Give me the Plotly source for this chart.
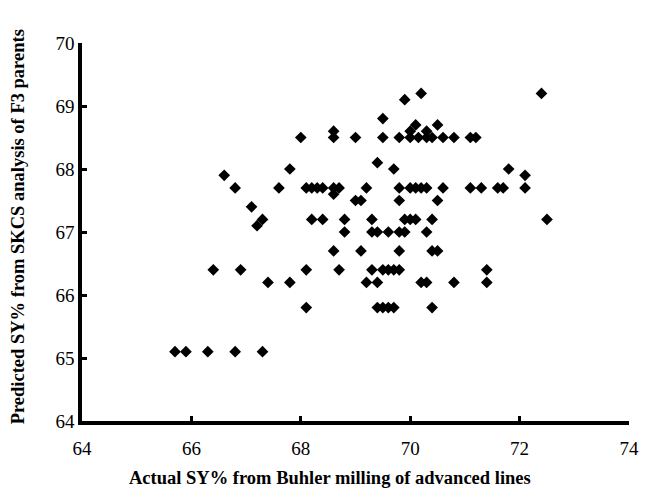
import plotly.graph_objects as go

# Data: rows grouped by predicted SY% (y) with actual SY% (x) values
rows = {
    65.1: [65.7, 65.9, 66.3, 66.8, 67.3],
    65.8: [68.1, 69.4, 69.5, 69.6, 69.7, 70.4],
    66.2: [67.4, 67.8, 69.2, 69.4, 70.2, 70.3, 70.8, 71.4],
    66.4: [66.4, 66.9, 68.1, 68.7, 69.3, 69.5, 69.6, 69.7, 69.8, 71.4],
    66.7: [68.6, 69.1, 69.8, 70.4, 70.5],
    67.0: [68.8, 69.3, 69.4, 69.6, 69.8, 69.9, 70.3],
    67.1: [67.2],
    67.2: [67.3, 68.2, 68.4, 68.8, 69.3, 69.9, 70.0, 70.1, 70.4, 72.5],
    67.4: [67.1],
    67.5: [69.0, 69.1, 69.8, 70.5],
    67.6: [68.6],
    67.7: [66.8, 67.6, 68.1, 68.2, 68.3, 68.4, 68.6, 68.7, 69.2, 69.8, 70.0,
           70.1, 70.2, 70.3, 70.6, 71.1, 71.3, 71.6, 71.7, 72.1],
    67.9: [66.6, 72.1],
    68.0: [67.8, 69.7, 71.8],
    68.1: [69.4],
    68.5: [68.0, 68.6, 69.0, 69.5, 69.8, 70.0, 70.15, 70.3, 70.4, 70.6, 70.8, 71.1, 71.2],
    68.6: [68.6, 70.0, 70.3],
    68.7: [70.1, 70.5],
    68.8: [69.5],
    69.1: [69.9],
    69.2: [70.2, 72.4],
}

actual_sy = [x for y, xs in rows.items() for x in xs]
predicted_sy = [y for y, xs in rows.items() for x in xs]

x_ticks = [64, 66, 68, 70, 72, 74]
y_ticks = [64, 65, 66, 67, 68, 69, 70]

x_title = "Actual SY% from Buhler milling of advanced lines"
y_title = "Predicted SY% from SKCS analysis of F3 parents"

fig = go.Figure()
fig.add_trace(go.Scatter(
    x=actual_sy, y=predicted_sy, mode="markers",
    marker=dict(symbol="diamond", size=9, color="black"),
    hoverinfo="x+y",
))

font_serif = "Liberation Serif, Times New Roman, serif"

fig.update_layout(
    width=651, height=493,
    margin=dict(l=82, r=19, t=43, b=72),
    paper_bgcolor="white", plot_bgcolor="white",
    showlegend=False,
    font=dict(family=font_serif, color="black", size=18),
    xaxis=dict(
        range=[64, 74], tickvals=x_ticks, ticktext=[str(v) for v in x_ticks],
        showgrid=False, zeroline=False,
        showline=True, linecolor="black", linewidth=3.5,
        ticks="inside", ticklen=5, tickwidth=3, tickcolor="black",
        tickfont=dict(size=19, family=font_serif),
        ticklabelstandoff=7,
    ),
    yaxis=dict(
        range=[64, 70], tickvals=y_ticks, ticktext=[str(v) for v in y_ticks],
        showgrid=False, zeroline=False,
        showline=True, linecolor="black", linewidth=3.5,
        ticks="inside", ticklen=5, tickwidth=3, tickcolor="black",
        tickfont=dict(size=19, family=font_serif),
        ticklabelstandoff=0,
    ),
    annotations=[
        dict(text="<b>" + x_title + "</b>", xref="paper", yref="paper",
             x=(331 - 82) / 550, y=-(478 - 421) / 378, xanchor="center", yanchor="middle",
             showarrow=False, font=dict(size=18.5, family=font_serif)),
        dict(text="<b>" + y_title + "</b>", xref="paper", yref="paper",
             x=-(82 - 18) / 550, y=(421 - 227) / 378, xanchor="center", yanchor="middle",
             textangle=-90, showarrow=False, font=dict(size=18.5, family=font_serif)),
    ],
)

fig.write_html("out.html")
